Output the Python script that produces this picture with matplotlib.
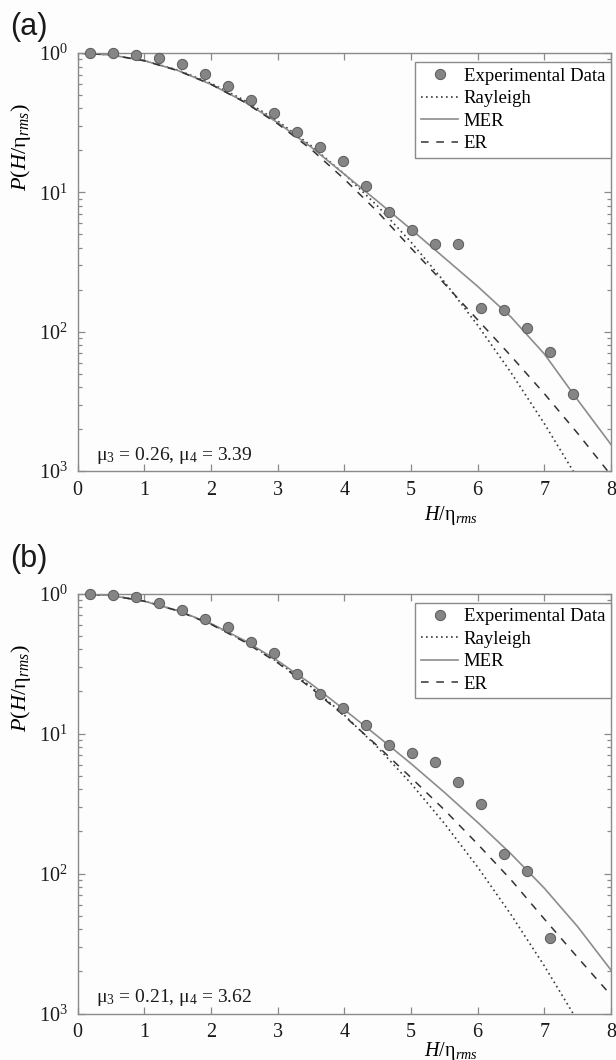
import matplotlib

matplotlib.use("Agg")  # Non-interactive backend
import matplotlib.pyplot as plt
import numpy as np
from matplotlib.ticker import FixedLocator, LogLocator, NullFormatter

plt.rcParams["font.family"] = ["Liberation Serif", "DejaVu Serif"]
plt.rcParams["mathtext.fontset"] = "custom"
plt.rcParams["mathtext.rm"] = "Liberation Serif"
plt.rcParams["mathtext.it"] = "Liberation Serif:italic"

# Experimental exceedance probabilities
h_data = [0.18, 0.53, 0.87, 1.22, 1.56, 1.91, 2.25, 2.60, 2.94, 3.29, 3.64,
          3.98, 4.33, 4.67, 5.02, 5.36, 5.71, 6.05, 6.40, 6.74, 7.09, 7.43]
p_data_a = [1.0, 0.995, 0.972, 0.916, 0.830, 0.710, 0.582, 0.460, 0.371, 0.270,
            0.211, 0.169, 0.1115, 0.0718, 0.0536, 0.0428, 0.0428, 0.0147,
            0.0142, 0.0107, 0.0071, 0.00355]
p_data_b = [0.99, 0.976, 0.939, 0.855, 0.759, 0.657, 0.574, 0.453, 0.378, 0.267,
            0.1905, 0.152, 0.1145, 0.0832, 0.0729, 0.0626, 0.0450, 0.0312,
            0.01385, 0.0104, 0.00346]

# Model curves, log10 P at h_curve
h_curve = [0.0, 0.5, 1.0, 1.5, 2.0, 2.5, 3.0, 3.5, 4.0,
           4.5, 5.0, 5.5, 6.0, 6.5, 7.0, 7.5, 8.0]
log_rayleigh = [0.0, -0.0136, -0.0543, -0.1221, -0.2171, -0.3393, -0.4886, -0.665,
                -0.8686, -1.0993, -1.357, -1.642, -1.954, -2.294, -2.660, -3.054, -3.474]
log_mer_a = [0.0, -0.014, -0.055, -0.125, -0.225, -0.35, -0.50, -0.675, -0.87,
             -1.065, -1.265, -1.47, -1.675, -1.895, -2.16, -2.49, -2.81]
log_er_a = [0.0, -0.014, -0.056, -0.126, -0.225, -0.352, -0.508, -0.69, -0.905,
            -1.14, -1.40, -1.655, -1.915, -2.175, -2.445, -2.73, -3.03]
log_mer_b = [0.0, -0.014, -0.055, -0.122, -0.215, -0.335, -0.48, -0.645, -0.83,
             -1.02, -1.215, -1.42, -1.635, -1.86, -2.105, -2.38, -2.69]
log_er_b = [0.0, -0.014, -0.055, -0.124, -0.22, -0.345, -0.495, -0.675, -0.875,
            -1.09, -1.315, -1.545, -1.79, -2.045, -2.325, -2.60, -2.87]

moments_a = "0.26", "3.39"
moments_b = "0.21", "3.62"
ytick_vals = [1e-3, 1e-2, 1e-1, 1.0]
ytick_labels = ["$10^3$", "$10^2$", "$10^1$", "$10^0$"]

W, H = 616, 1060
fig = plt.figure(figsize=(W / 100, H / 100), dpi=100)
fig.patch.set_facecolor("#fdfdfd")

axis_grey = "#8a8a8a"


def make_panel(rect, p_data, log_mer, log_er, moments, xlabel_y):
    ax = fig.add_axes(rect)
    ax.set_facecolor("#fdfdfd")
    hd = h_data[: len(p_data)]
    ax.plot(h_curve, 10 ** np.array(log_rayleigh), ls=(0, (1, 2.0)), color="#3a3a3a",
            lw=1.2, label="Rayleigh", zorder=2)
    ax.plot(h_curve, 10 ** np.array(log_mer), ls="-", color="#8c8c8c",
            lw=1.2, label="MER", zorder=2)
    ax.plot(h_curve, 10 ** np.array(log_er), ls=(0, (5, 5)), color="#333333",
            lw=1.1, label="ER", zorder=2)
    ax.plot(hd, p_data, ls="none", marker="o", ms=7.4, mfc="#858585",
            mec="#5a5a5a", mew=0.7, label="Experimental Data", zorder=4, clip_on=False)

    ax.set_yscale("log")
    ax.set_xlim(0, 8)
    ax.set_ylim(1e-3, 1)
    ax.xaxis.set_major_locator(FixedLocator(range(9)))
    ax.yaxis.set_major_locator(FixedLocator(ytick_vals))
    ax.set_yticklabels(ytick_labels)
    ax.yaxis.set_minor_locator(LogLocator(base=10, subs=np.arange(2, 10)))
    ax.yaxis.set_minor_formatter(NullFormatter())
    ax.tick_params(which="both", direction="in", top=True, right=True,
                   color=axis_grey, labelcolor="#1a1a1a", labelsize=14.5, width=0.9)
    ax.tick_params(which="major", length=5, pad=7)
    ax.tick_params(which="minor", length=3)
    for sp in ax.spines.values():
        sp.set_color(axis_grey)
        sp.set_linewidth(1.0)

    ax.set_xlabel(r"$H/\mathrm{\eta}_{rms}$", fontsize=14.5)
    ax.xaxis.set_label_coords(0.70, xlabel_y)
    ax.set_ylabel(r"$P(H/\mathrm{\eta}_{rms})$", fontsize=16)
    ax.yaxis.set_label_coords(-0.084, 0.775)

    ax.text(0.27, 1.3e-3, r"$\mathrm{\mu}_3$ = %s, $\mathrm{\mu}_4$ = %s" % moments,
            fontsize=14, va="center", ha="left", color="#1a1a1a")

    handles, labels = ax.get_legend_handles_labels()
    order = [3, 0, 1, 2]
    leg = ax.legend([handles[i] for i in order], [labels[i] for i in order],
                    loc="upper right", bbox_to_anchor=(1.0, 0.978), borderaxespad=0,
                    fancybox=False, edgecolor=axis_grey, fontsize=13.5, numpoints=1,
                    handlelength=2.0, handletextpad=0.3, labelspacing=0.28,
                    borderpad=0.3, framealpha=1)
    leg.get_frame().set_linewidth(1.0)
    return ax


left = 77.7 / W
width = (611 - 77.7) / W
make_panel([left, 1 - 471 / H, width, (471 - 53) / H], p_data_a, log_mer_a, log_er_a,
           moments_a, -0.078)
make_panel([left, 1 - 1013.5 / H, width, (1013.5 - 593.5) / H], p_data_b, log_mer_b,
           log_er_b, moments_b, -0.063)

fig.text(10 / W, 1 - 27.5 / H, "(a)", family="Liberation Sans", fontsize=22,
         va="center", ha="left", color="#1a1a1a")
fig.text(10 / W, 1 - 559 / H, "(b)", family="Liberation Sans", fontsize=22,
         va="center", ha="left", color="#1a1a1a")

plt.savefig("out.png", dpi=100, facecolor=fig.get_facecolor())
plt.close()
